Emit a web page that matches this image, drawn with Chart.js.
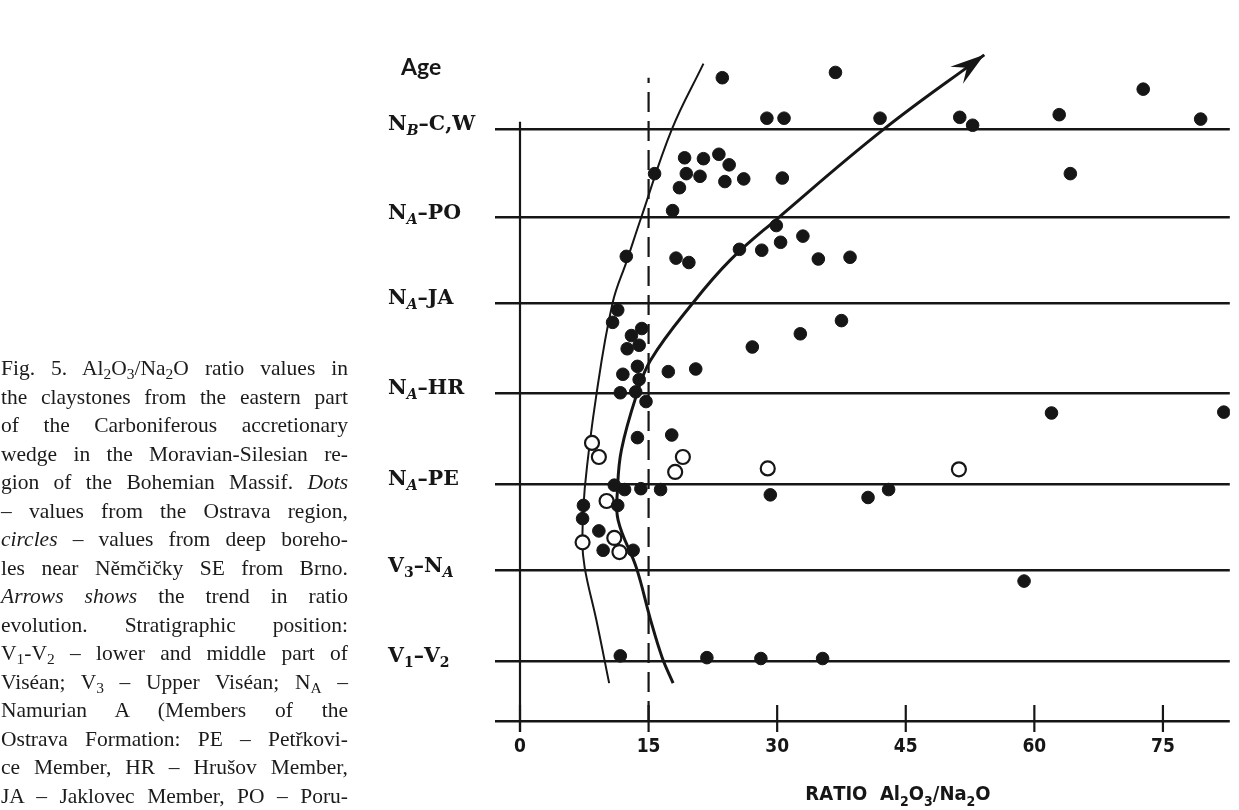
<!DOCTYPE html>
<html>
<head>
<meta charset="utf-8">
<script src="https://cdn.jsdelivr.net/npm/chart.js@4.4.1/dist/chart.umd.min.js"></script>
<style>
  html, body { margin: 0; padding: 0; background: #fff; }
  #wrap { position: relative; width: 1239px; height: 810px; overflow: hidden; }
  #fig { position: absolute; left: 0; top: 0; }
  #cap { position: absolute; left: 1px; top: 354px; width: 347px; color: #1b1b1b;
         font-family: 'Liberation Serif', 'Times New Roman', serif; font-size: 21.5px; line-height: 28.5px; }
  #cap div { text-align: justify; text-align-last: justify; height: 28.5px; }
  #cap sub { font-size: 0.72em; line-height: 0; vertical-align: baseline; position: relative; top: 0.28em; }
</style>
</head>
<body>
<div id="wrap">
  <canvas id="fig" width="1239" height="810"></canvas>
  <div id="cap">
    <div>Fig. 5. Al<sub>2</sub>O<sub>3</sub>/Na<sub>2</sub>O ratio values in</div>
    <div>the claystones from the eastern part</div>
    <div>of the Carboniferous accretionary</div>
    <div>wedge in the Moravian-Silesian re-</div>
    <div>gion of the Bohemian Massif. <i>Dots</i></div>
    <div>– values from the Ostrava region,</div>
    <div><i>circles</i> – values from deep boreho-</div>
    <div>les near Němčičky SE from Brno.</div>
    <div><i>Arrows shows</i> the trend in ratio</div>
    <div>evolution. Stratigraphic position:</div>
    <div>V<sub>1</sub>-V<sub>2</sub> – lower and middle part of</div>
    <div>Viséan; V<sub>3</sub> – Upper Viséan; N<sub>A</sub> –</div>
    <div>Namurian A (Members of the</div>
    <div>Ostrava Formation: PE – Petřkovi-</div>
    <div>ce Member, HR – Hrušov Member,</div>
    <div>JA – Jaklovec Member, PO – Poru-</div>
  </div>
</div>
<script>
// Al2O3/Na2O ratio (x) against stratigraphic position (y, boundary levels)
const xTicks = [0, 15, 30, 45, 60, 75];
const levelValues = [0, 0.68, 1.71, 2.69, 3.73, 4.75, 5.72, 6.73];
const levelLabels = ['', 'V_1–V_2', 'V_3–N_A', 'N_A–PE', 'N_A–HR', 'N_A–JA', 'N_A–PO', 'N_B–C,W'];

// dots - Ostrava region
const ostravaX = [23.6, 36.8, 72.7, 28.8, 30.8, 42.0, 51.3, 52.8, 62.9, 79.4, 64.2, 15.7,
  19.2, 21.4, 23.2, 24.4, 19.4, 21.0, 23.9, 26.1, 30.6, 18.6, 17.8, 29.9, 33.0, 30.4,
  25.6, 28.2, 34.8, 38.5, 12.4, 18.2, 19.7, 11.4, 10.8, 37.5, 32.7, 14.2, 13.0, 13.9,
  12.5, 27.1, 13.7, 12.0, 17.3, 20.5, 13.9, 11.7, 13.5, 14.7, 62.0, 82.1, 13.7, 17.7,
  11.0, 12.2, 14.1, 16.4, 29.2, 43.0, 40.6, 7.4, 11.4, 7.3, 9.2, 9.7, 13.2, 58.8,
  11.7, 21.8, 28.1, 35.3];
const ostravaY = [7.31, 7.37, 7.18, 6.85, 6.85, 6.85, 6.86, 6.77, 6.89, 6.84, 6.22, 6.22,
  6.40, 6.39, 6.44, 6.32, 6.22, 6.19, 6.13, 6.16, 6.17, 6.06, 5.80, 5.63, 5.51, 5.44,
  5.36, 5.35, 5.25, 5.27, 5.28, 5.26, 5.21, 4.67, 4.53, 4.55, 4.40, 4.46, 4.38, 4.27,
  4.23, 4.25, 4.03, 3.94, 3.97, 4.00, 3.88, 3.73, 3.74, 3.63, 3.50, 3.51, 3.22, 3.25,
  2.68, 2.63, 2.64, 2.63, 2.57, 2.63, 2.54, 2.45, 2.45, 2.30, 2.16, 1.94, 1.94, 1.59,
  0.74, 0.72, 0.71, 0.71];

// circles - deep boreholes near Nemcicky
const boreholeX = [8.4, 9.2, 19.0, 18.1, 28.9, 51.2, 10.1, 7.3, 11.0, 11.6];
const boreholeY = [3.16, 3.00, 3.00, 2.83, 2.87, 2.86, 2.50, 2.03, 2.08, 1.92];

// hand drawn envelope curve and trend arrow
const envelopeX = [21.4, 17.7, 14.1, 12.5, 10.8, 8.9, 7.55, 7.27, 7.55, 8.9, 10.4];
const envelopeY = [7.47, 6.72, 5.71, 5.24, 4.75, 3.70, 2.64, 2.06, 1.74, 1.15, 0.43];
const trendX = [17.86, 16.59, 15.23, 13.58, 11.45, 11.38, 11.83, 13.58, 15.23, 20.16, 24.55, 30.03, 42.37, 54.16];
const trendY = [0.43, 0.72, 1.15, 1.74, 2.28, 2.64, 3.08, 3.70, 4.10, 4.75, 5.24, 5.71, 6.72, 7.57];

const limitX = 15;        // dashed reference line
const limitTop = 7.31;
const yAxisTop = 6.81;

const ink = '#161616';
const zip = (xs, ys) => xs.map((v, i) => ({ x: v, y: ys[i] }));

// keep every caption line on one line (shrink a line a little if it would wrap)
document.querySelectorAll('#cap div').forEach(d => {
  d.style.whiteSpace = 'nowrap';
  d.style.display = 'inline-block';
  const w = d.getBoundingClientRect().width;
  d.style.whiteSpace = '';
  d.style.display = '';
  if (w > 346) d.style.fontSize = (21.5 * 346 / w).toFixed(2) + 'px';
});

function drawRich(ctx, text, x, base, font, subFont, subDrop) {
  let cx = x;
  for (let i = 0; i < text.length; i++) {
    let ch = text[i];
    if (ch === '_') {
      ch = text[++i];
      ctx.font = (/[A-Z]/.test(ch) ? 'italic ' : '') + subFont;
      ctx.fillText(ch, cx, base + subDrop);
    } else {
      ctx.font = font;
      ctx.fillText(ch, cx, base);
    }
    cx += ctx.measureText(ch).width;
  }
  return cx - x;
}

function richWidth(ctx, text, font, subFont) {
  ctx.save();
  ctx.globalAlpha = 0;
  const w = drawRich(ctx, text, 0, 0, font, subFont, 0);
  ctx.restore();
  return w;
}

const figurePlugin = {
  id: 'figure',
  afterDraw(chart) {
    const { ctx, chartArea: a, scales: { x, y } } = chart;
    ctx.save();
    ctx.strokeStyle = ink;
    ctx.fillStyle = ink;
    ctx.lineWidth = 2.2;

    // y axis line and x tick marks crossing the axis
    const x0 = x.getPixelForValue(0);
    ctx.beginPath();
    ctx.moveTo(x0, y.getPixelForValue(yAxisTop));
    ctx.lineTo(x0, a.bottom + 11);
    ctx.stroke();
    xTicks.forEach(v => {
      const px = x.getPixelForValue(v);
      ctx.beginPath();
      ctx.moveTo(px, a.bottom - 16);
      ctx.lineTo(px, a.bottom + 11);
      ctx.stroke();
    });

    // arrow head on the trend line
    const n = trendX.length;
    const tx = x.getPixelForValue(trendX[n - 1]), ty = y.getPixelForValue(trendY[n - 1]);
    const qx = x.getPixelForValue(trendX[n - 2]), qy = y.getPixelForValue(trendY[n - 2]);
    const ang = Math.atan2(ty - qy, tx - qx);
    const L = 36;
    ctx.beginPath();
    ctx.moveTo(tx, ty);
    ctx.lineTo(tx - L * Math.cos(ang - 0.3), ty - L * Math.sin(ang - 0.3));
    ctx.lineTo(tx - 0.6 * L * Math.cos(ang), ty - 0.6 * L * Math.sin(ang));
    ctx.lineTo(tx - L * Math.cos(ang + 0.3), ty - L * Math.sin(ang + 0.3));
    ctx.closePath();
    ctx.fill();

    // stratigraphic labels
    ctx.textAlign = 'left';
    ctx.textBaseline = 'alphabetic';
    levelValues.forEach((v, i) => {
      if (!levelLabels[i]) return;
      drawRich(ctx, levelLabels[i], 388, y.getPixelForValue(v) + 1,
        'bold 20.5px "DejaVu Serif", serif', 'bold 14px "DejaVu Serif", serif', 5);
    });
    ctx.font = 'bold 23px Lato, "Open Sans", sans-serif';
    ctx.fillText('Age', 401, y.getPixelForValue(7.34));

    // x axis title
    const tf = 'bold 20px "Liberation Sans Narrow", "DejaVu Sans Condensed", Roboto, sans-serif';
    const sf = 'bold 14px "Liberation Sans Narrow", "DejaVu Sans Condensed", Roboto, sans-serif';
    const title = 'RATIO  Al_2O_3/Na_2O';
    const w = richWidth(ctx, title, tf, sf);
    drawRich(ctx, title, 898 - w / 2, a.bottom + 79, tf, sf, 6);
    ctx.restore();
  }
};

new Chart(document.getElementById('fig'), {
  type: 'scatter',
  data: {
    datasets: [
      {
        data: zip(ostravaX, ostravaY),
        pointRadius: 6.3,
        pointBackgroundColor: ink,
        pointBorderColor: ink,
        pointBorderWidth: 1
      },
      {
        data: zip(boreholeX, boreholeY),
        pointRadius: 7,
        pointBackgroundColor: '#ffffff',
        pointBorderColor: ink,
        pointBorderWidth: 2.2
      },
      {
        data: zip(envelopeX, envelopeY),
        showLine: true,
        tension: 0.4,
        pointRadius: 0,
        borderColor: ink,
        borderWidth: 2
      },
      {
        data: zip(trendX, trendY),
        showLine: true,
        tension: 0.4,
        pointRadius: 0,
        borderColor: ink,
        borderWidth: 3
      },
      {
        data: [{ x: limitX, y: 0 }, { x: limitX, y: limitTop }],
        showLine: true,
        pointRadius: 0,
        borderColor: ink,
        borderWidth: 2.2,
        borderDash: [20, 9]
      }
    ]
  },
  options: {
    responsive: false,
    animation: false,
    devicePixelRatio: 1,
    layout: { padding: { left: 0, top: 17, right: 7, bottom: 0 } },
    plugins: { legend: { display: false }, tooltip: { enabled: false } },
    scales: {
      x: {
        type: 'linear',
        min: 0,
        max: 82.8,
        afterBuildTicks: s => { s.ticks = xTicks.map(v => ({ value: v })); },
        afterFit: s => { s.height = 89; },
        grid: { display: false, drawTicks: false },
        border: { display: false },
        ticks: {
          padding: 15,
          color: ink,
          font: { family: '"Liberation Sans Narrow", "DejaVu Sans Condensed", Roboto, sans-serif', weight: 'bold', size: 19 }
        }
      },
      y: {
        type: 'linear',
        min: 0,
        max: 8,
        afterBuildTicks: s => { s.ticks = levelValues.map(v => ({ value: v })); },
        afterFit: s => { s.width = 520; },
        grid: { color: ink, lineWidth: 2.5, drawTicks: true, tickLength: 25 },
        border: { display: false },
        ticks: { display: false }
      }
    }
  },
  plugins: [figurePlugin]
});
</script>
</body>
</html>
